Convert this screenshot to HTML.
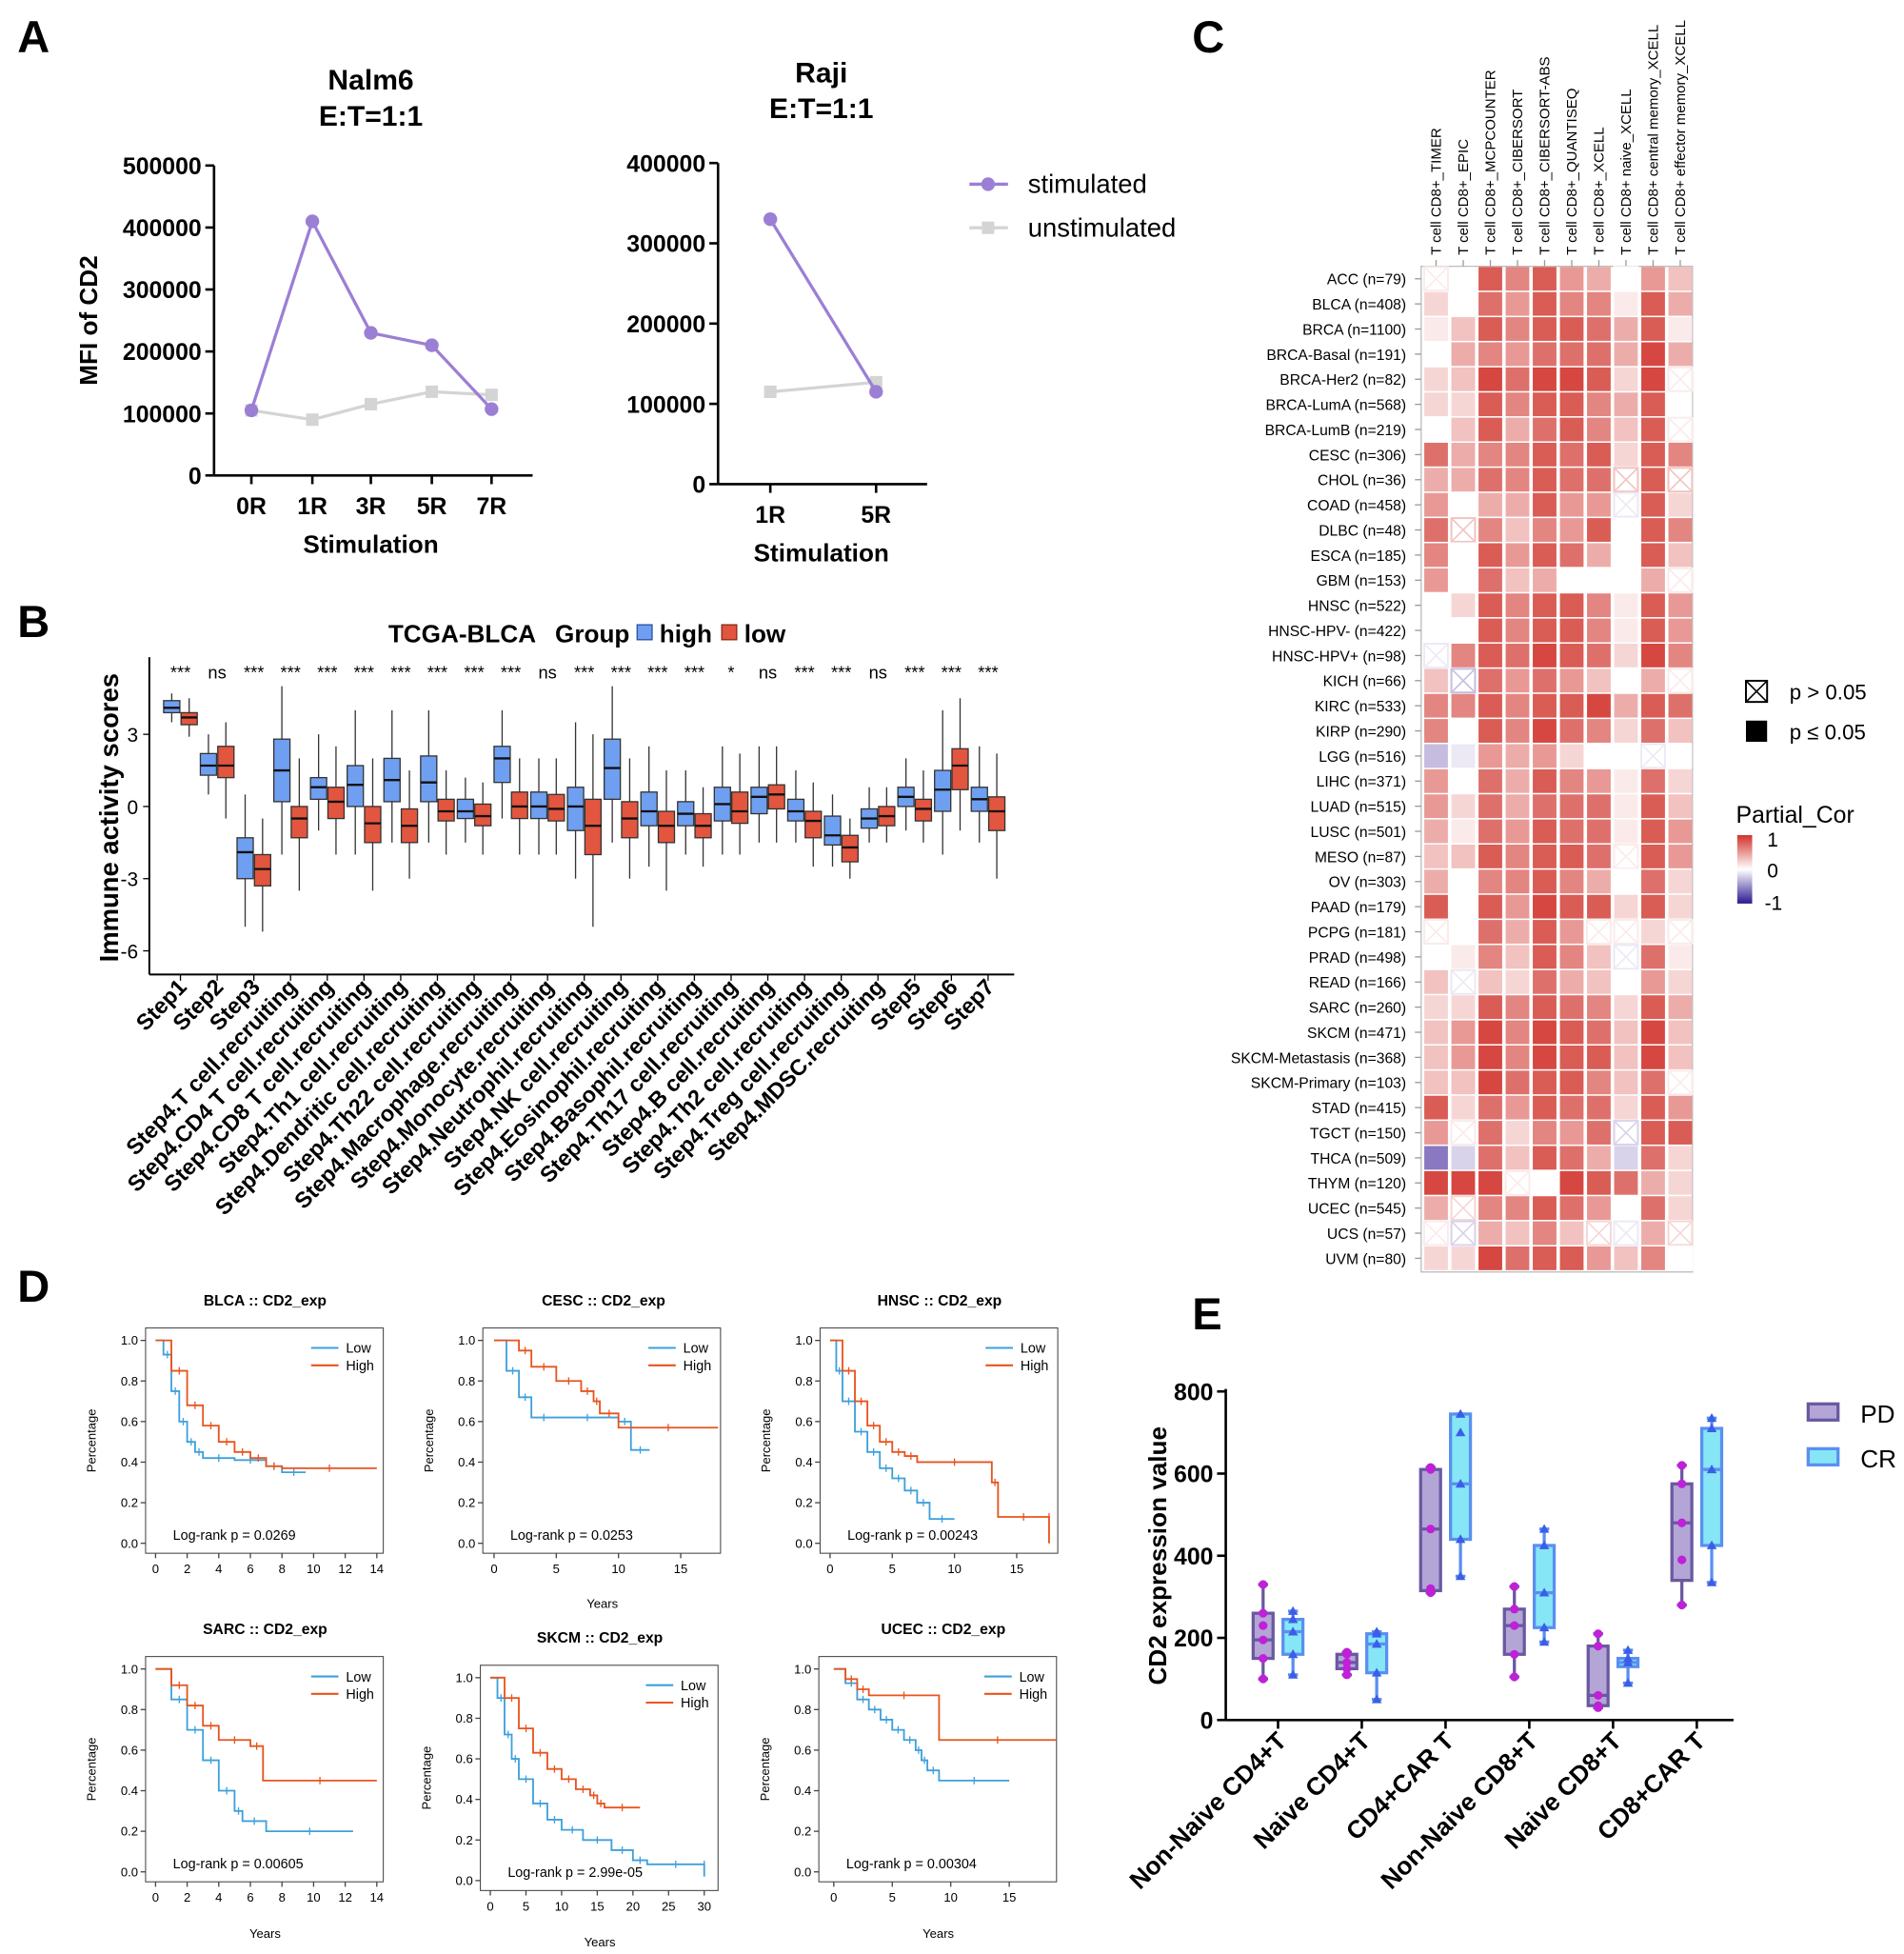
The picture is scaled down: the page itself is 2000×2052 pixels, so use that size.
<!DOCTYPE html>
<html><head><meta charset="utf-8">
<style>
html,body{margin:0;padding:0;background:#fff;}
svg{display:block;font-family:"Liberation Sans",Arial,sans-serif;}
</style></head>
<body>
<svg id="fig" xmlns="http://www.w3.org/2000/svg" width="2000" height="2052" viewBox="0 0 1530 1570" preserveAspectRatio="none"></svg>
<script>
// ---------- DATA ----------
const nalmCats = ["0R","1R","3R","5R","7R"];
const nalmStim = [105000,410000,230000,210000,107000];
const nalmUnstim = [105000,90000,115000,135000,130000];
const nalmTicks = [0,100000,200000,300000,400000,500000];
const rajiCats = ["1R","5R"];
const rajiStim = [330000,115000];
const rajiUnstim = [115000,127000];
const rajiTicks = [0,100000,200000,300000,400000];

const bCats = ["Step1","Step2","Step3","Step4.T cell.recruiting","Step4.CD4 T cell.recruiting","Step4.CD8 T cell.recruiting","Step4.Th1 cell.recruiting","Step4.Dendritic cell.recruiting","Step4.Th22 cell.recruiting","Step4.Macrophage.recruiting","Step4.Monocyte.recruiting","Step4.Neutrophil.recruiting","Step4.NK cell.recruiting","Step4.Eosinophil.recruiting","Step4.Basophil.recruiting","Step4.Th17 cell.recruiting","Step4.B cell.recruiting","Step4.Th2 cell.recruiting","Step4.Treg cell.recruiting","Step4.MDSC.recruiting","Step5","Step6","Step7"];
const bSig = ["***","ns","***","***","***","***","***","***","***","***","ns","***","***","***","***","*","ns","***","***","ns","***","***","***"];
// [whiskerLo, q1, median, q3, whiskerHi]
const bHigh = [[3.5,3.9,4.1,4.4,4.7],[0.5,1.3,1.7,2.2,3.0],[-5,-3.0,-1.9,-1.3,0.5],[-2,0.2,1.5,2.8,5],[-1,0.3,0.8,1.2,3],[-2,0,0.9,1.7,4],[-1.5,0.2,1.1,2.0,4],[-1.5,0.2,1.0,2.1,4],[-1.5,-0.5,-0.2,0.3,1.2],[-0.5,1.0,2.0,2.5,4],[-2,-0.5,0,0.6,2],[-3,-1,0,0.8,3.5],[-1.5,0.3,1.6,2.8,5],[-2.5,-0.8,-0.2,0.6,2.5],[-2,-0.8,-0.3,0.2,1.5],[-2,-0.6,0.1,0.8,2.5],[-1.5,-0.3,0.4,0.8,2.5],[-1.5,-0.6,-0.2,0.3,1.5],[-2.5,-1.6,-1.2,-0.4,0.5],[-1.5,-0.9,-0.5,-0.1,0.8],[-1,0,0.4,0.8,2],[-2,-0.2,0.7,1.5,4],[-1.5,-0.2,0.3,0.8,2.5]];
const bLow = [[2.9,3.4,3.7,3.9,4.5],[-0.5,1.2,1.7,2.5,3.5],[-5.2,-3.3,-2.6,-2.0,-0.5],[-3.5,-1.3,-0.5,0.0,2],[-2,-0.5,0.2,0.8,2.5],[-3.5,-1.5,-0.7,0,2],[-3,-1.5,-0.8,-0.1,1.5],[-2,-0.6,-0.2,0.3,1.5],[-2,-0.8,-0.4,0.1,1],[-2,-0.5,0,0.6,2],[-2,-0.6,-0.1,0.5,2],[-5,-2,-0.8,0.3,3],[-3,-1.3,-0.5,0.2,2],[-3.5,-1.5,-0.8,-0.2,1.5],[-2.5,-1.3,-0.8,-0.3,0.8],[-2,-0.7,-0.2,0.6,2.2],[-1.5,-0.1,0.5,0.9,2.5],[-2.5,-1.3,-0.6,-0.2,1],[-3,-2.3,-1.7,-1.2,-0.5],[-1.5,-0.8,-0.4,0,0.8],[-1.5,-0.6,-0.1,0.3,1.5],[-1,0.7,1.7,2.4,4.5],[-3,-1.0,-0.2,0.4,2.2]];
const bTicks = [3,0,-3,-6];

const hmCols = ["T cell CD8+_TIMER","T cell CD8+_EPIC","T cell CD8+_MCPCOUNTER","T cell CD8+_CIBERSORT","T cell CD8+_CIBERSORT-ABS","T cell CD8+_QUANTISEQ","T cell CD8+_XCELL","T cell CD8+ naive_XCELL","T cell CD8+ central memory_XCELL","T cell CD8+ effector memory_XCELL"];
const hmRows = ["ACC (n=79)","BLCA (n=408)","BRCA (n=1100)","BRCA-Basal (n=191)","BRCA-Her2 (n=82)","BRCA-LumA (n=568)","BRCA-LumB (n=219)","CESC (n=306)","CHOL (n=36)","COAD (n=458)","DLBC (n=48)","ESCA (n=185)","GBM (n=153)","HNSC (n=522)","HNSC-HPV- (n=422)","HNSC-HPV+ (n=98)","KICH (n=66)","KIRC (n=533)","KIRP (n=290)","LGG (n=516)","LIHC (n=371)","LUAD (n=515)","LUSC (n=501)","MESO (n=87)","OV (n=303)","PAAD (n=179)","PCPG (n=181)","PRAD (n=498)","READ (n=166)","SARC (n=260)","SKCM (n=471)","SKCM-Metastasis (n=368)","SKCM-Primary (n=103)","STAD (n=415)","TGCT (n=150)","THCA (n=509)","THYM (n=120)","UCEC (n=545)","UCS (n=57)","UVM (n=80)"];
// value x10 ; suffix x = p > 0.05
const hmVals = [
"1x 0 8 6 8 5 4 0x 5 3","2 0x 7 5 8 6 6 1 8 4","1 3 8 6 8 8 7 4 8 1","0x 4 6 5 7 7 7 4 9 4","2 3 9 7 9 9 8 2 9 1x",
"2 2 8 6 8 8 6 4 8 0","0x 3 8 4 7 8 6 3 8 1x","7 4 6 6 8 7 8 2 8 6","4 4 7 6 8 7 7 3x 8 3x","5 0x 4 4 8 5 5 -1x 8 2",
"7 3x 6 3 6 5 8 0 8 6","6 0x 8 5 8 7 4 0x 8 3","5 0 7 3 4 0x 0x 0x 4 1x","0x 2 8 6 8 8 6 1 8 5","0 0x 8 6 8 8 6 1 8 5",
"-1x 6 8 7 9 8 7 2 9 6","3 -3x 7 5 7 5 3 0x 4 1x","6 6 8 6 8 8 9 4 8 7","6 0 8 6 9 7 6 2 7 3","-3 -1 5 4 5 2 0 0x -1x 0",
"5 0 7 4 8 6 5 1 7 2","5 2 7 4 7 7 7 1 8 3","4 1 7 5 8 7 7 1 8 5","3 3 8 6 8 8 7 1x 8 5","4 0x 6 6 8 6 4 0x 7 2",
"8 0x 8 5 9 8 8 2 8 2","1x 0x 7 4 8 5 1x 1x 2 1x","0 1 6 3 8 6 3 -1x 7 1","3 -1x 3 2 7 4 3 0 5 2","2 2 8 6 8 7 6 2 8 4",
"3 5 9 6 9 8 7 3 9 3","3 5 9 6 9 8 8 3 9 3","3 3 9 7 8 8 6 3 7 1x","8 2 7 5 8 7 7 2 8 5","5 1x 7 2 6 5 7 -2x 8 8",
"-6 -2 7 3 8 7 4 -2 7 2","9 9 9 1x 0 9 8 7 4 2","4 2x 6 6 8 7 5 0 7 2","1x -2x 4 3 6 3 2x -1x 4 2x","2 2 9 7 8 8 5 3 6 0x"];

const kmTitles = ["BLCA","CESC","HNSC","SARC","SKCM","UCEC"];
const kmP = ["0.0269","0.0253","0.00243","0.00605","2.99e-05","0.00304"];
const kmLowT = [[0,0.5,1,1.5,2,2.5,3,5,7,8,9.5],[0,1,2,3,5,10,11,12.5],[0,0.5,1,2,3,4,5,6,7,8,10],[0,1,2,3,4,5,5.5,7,12.5],[0,1,2,3,4,6,8,10,13,17,20,22,30,30],[0,1,2,3,4,5,6,7,7.5,8,9,15]];
const kmLowS = [[1,0.93,0.75,0.6,0.5,0.45,0.42,0.41,0.38,0.35,0.35],[1,0.85,0.72,0.62,0.62,0.6,0.46,0.46],[1,0.85,0.7,0.55,0.45,0.37,0.32,0.26,0.2,0.12,0.12],[1,0.85,0.7,0.55,0.4,0.3,0.25,0.2,0.2],[1,0.9,0.72,0.6,0.5,0.38,0.3,0.25,0.2,0.15,0.1,0.08,0.08,0.02],[1,0.93,0.85,0.8,0.75,0.7,0.65,0.6,0.55,0.5,0.45,0.45]];
const kmHighT = [[0,1,2,3,4,5,6,7,8,14],[0,2,3,5,7,8,8.5,10,18],[0,1,2,3,4,5,6,7,13,13.5,17.6,17.6],[0,1,2,3,4,6,6.8,14],[0,2,4,6,8,10,12,14,15,16,21],[0,1,2,3,9,19]];
const kmHighS = [[1,0.85,0.68,0.58,0.5,0.45,0.42,0.38,0.37,0.37],[1,0.95,0.87,0.8,0.75,0.7,0.64,0.57,0.57],[1,0.85,0.7,0.58,0.5,0.45,0.43,0.4,0.3,0.13,0.13,0],[1,0.92,0.82,0.72,0.65,0.62,0.45,0.45],[1,0.9,0.75,0.63,0.55,0.5,0.45,0.42,0.38,0.36,0.36],[1,0.95,0.9,0.87,0.65,0.65]];

const eCats = ["Non-Naive CD4+T","Naive CD4+T","CD4+CAR T","Non-Naive CD8+T","Naive CD8+T","CD8+CAR T"];
const ePD = [[100,150,195,260,330],[110,125,140,160,165],[310,315,465,610,615],[105,160,230,270,325],[30,35,60,180,210],[280,340,480,575,620]];
const eCR = [[110,160,215,245,265],[50,115,185,210,215],[350,440,575,745,745],[190,225,310,425,465],[90,130,140,150,170],[335,425,610,710,735]];
const ePDpts = [[100,150,195,230,330,260],[110,125,140,160,165],[310,320,465,610,615],[105,160,230,270,325],[30,35,60,180,210],[280,390,480,575,620]];
const eCRpts = [[110,160,215,245,265],[50,115,185,210,215],[350,440,575,700,745],[190,225,310,425,465],[90,140,150,170],[335,425,610,710,735]];
const eTicks = [0,200,400,600,800];

// ---------- HELPERS ----------
const NS="http://www.w3.org/2000/svg";
const svg=document.getElementById('fig');
function mk(tag,attrs,parent){const e=document.createElementNS(NS,tag);for(const k in attrs)e.setAttribute(k,attrs[k]);(parent||svg).appendChild(e);return e;}
function tx(x,y,s,attrs,parent){const e=mk('text',Object.assign({x:x,y:y},attrs),parent);e.textContent=s;return e;}
function grp(name){const g=mk('g',{});return g;}

// panel letters
const letters=[["A",14,42],["B",14,512],["C",958,42],["D",14,1046],["E",958,1068]];
letters.forEach(l=>{const t=tx(l[1],l[2],l[0],{'font-size':36,'font-weight':'bold'});

});

// ---------- PANEL A ----------
function lineChart(name,ax,ayTop,ayBot,axRight,xs,cats,ticks,stim,unstim,title1,title2,tcx,tYear,showY){
 const g=grp(name);
 const maxV=ticks[ticks.length-1];
 const y=v=>ayBot-(v/maxV)*(ayBot-ayTop);
 const t1=tx(tcx,tYear,title1,{'font-size':23,'font-weight':'bold','text-anchor':'middle'},g);
 
 
 tx(tcx,tYear+29,title2,{'font-size':23,'font-weight':'bold','text-anchor':'middle'},g);
 const ya=mk('line',{x1:ax,y1:ayTop,x2:ax,y2:ayBot,stroke:'#000','stroke-width':2},g);
 
 
 const xa=mk('line',{x1:ax,y1:ayBot,x2:axRight,y2:ayBot,stroke:'#000','stroke-width':2},g);
 
 
 ticks.forEach(v=>{mk('line',{x1:ax-7,y1:y(v),x2:ax,y2:y(v),stroke:'#000','stroke-width':2},g);
  const t=tx(ax-10,y(v)+7,String(v),{'font-size':19,'font-weight':'bold','text-anchor':'end'},g);
  
  });
 cats.forEach((c,i)=>{mk('line',{x1:xs[i],y1:ayBot,x2:xs[i],y2:ayBot+7,stroke:'#000','stroke-width':2},g);
  const t=tx(xs[i],ayBot+31,c,{'font-size':19,'font-weight':'bold','text-anchor':'middle'},g);
  
  });
 const xt=tx(tcx,ayBot+62,'Stimulation',{'font-size':20,'font-weight':'bold','text-anchor':'middle'},g);
 
 
 if(showY){const yt=tx(0,0,'MFI of CD2',{'font-size':20,'font-weight':'bold','text-anchor':'middle',transform:`translate(78,${(ayTop+ayBot)/2}) rotate(-90)`},g);
  
  }
 const pu=mk('polyline',{points:unstim.map((v,i)=>xs[i]+','+y(v)).join(' '),fill:'none',stroke:'#d4d4d4','stroke-width':2.5},g);
 
 
 unstim.forEach((v,i)=>{const r=mk('rect',{x:xs[i]-5,y:y(v)-5,width:10,height:10,fill:'#d4d4d4'},g);
  
  });
 const ps=mk('polyline',{points:stim.map((v,i)=>xs[i]+','+y(v)).join(' '),fill:'none',stroke:'#9b7fd4','stroke-width':2.5},g);
 
 
 stim.forEach((v,i)=>{const c=mk('circle',{cx:xs[i],cy:y(v),r:5.5,fill:'#9b7fd4'},g);
  
  });
}
lineChart('nalm6-chart',172,133,382,428,[202,251,298,347,395],nalmCats,nalmTicks,nalmStim,nalmUnstim,'Nalm6','E:T=1:1',298,72,true);
lineChart('raji-chart',577,131,389,745,[619,704],rajiCats,rajiTicks,rajiStim,rajiUnstim,'Raji','E:T=1:1',660,66,false);
(function(){const g=grp('panel-a-legend');
 mk('line',{x1:779,y1:148,x2:810,y2:148,stroke:'#9b7fd4','stroke-width':2.5},g);
 mk('circle',{cx:794,cy:148,r:5.5,fill:'#9b7fd4'},g);
 const a=tx(826,155,'stimulated',{'font-size':21},g);
 
 
 mk('line',{x1:779,y1:183,x2:810,y2:183,stroke:'#d4d4d4','stroke-width':2.5},g);
 mk('rect',{x:789,y:178,width:10,height:10,fill:'#d4d4d4'},g);
 const b=tx(826,190,'unstimulated',{'font-size':21},g);
 
 })();

// ---------- PANEL B ----------
(function(){
 const g=grp('panel-b-boxplot');
 const x0=145, step=29.5, yZ=648, k=19.33;
 const y=v=>yZ-v*k;
 const xa=mk('line',{x1:120,y1:783,x2:815,y2:783,stroke:'#000','stroke-width':1.5},g);
 
 
 const ya=mk('line',{x1:120,y1:528,x2:120,y2:783,stroke:'#000','stroke-width':1.5},g);
 
 
 bTicks.forEach(v=>{mk('line',{x1:115,y1:y(v),x2:120,y2:y(v),stroke:'#000'},g);
  const t=tx(111,y(v)+6,String(v),{'font-size':16,'text-anchor':'end'},g);
  
  });
 const yt=tx(0,0,'Immune activity scores',{'font-size':21,'font-weight':'bold','text-anchor':'middle',transform:'translate(95,657) rotate(-90)'},g);
 
 
 const tt=tx(312,516,'TCGA-BLCA',{'font-size':20,'font-weight':'bold'},g);
 
 
 tx(446,516,'Group',{'font-size':20,'font-weight':'bold'},g);
 mk('rect',{x:512,y:502,width:12,height:12,fill:'#6f9ff0',stroke:'#2a50a0'},g);
 const lh=tx(530,516,'high',{'font-size':20,'font-weight':'bold'},g);
 
 
 mk('rect',{x:580,y:502,width:12,height:12,fill:'#e2553e',stroke:'#8a2a1a'},g);
 const ll=tx(598,516,'low',{'font-size':20,'font-weight':'bold'},g);
 
 
 function box(cx,d,fill,name){
  const b=mk('g',{},g);
  
  
  mk('line',{x1:cx,y1:y(d[4]),x2:cx,y2:y(d[3]),stroke:'#333','stroke-width':1},b);
  mk('line',{x1:cx,y1:y(d[1]),x2:cx,y2:y(d[0]),stroke:'#333','stroke-width':1},b);
  mk('rect',{x:cx-6.5,y:y(d[3]),width:13,height:y(d[1])-y(d[3]),fill:fill,stroke:'#333','stroke-width':1},b);
  mk('line',{x1:cx-6.5,y1:y(d[2]),x2:cx+6.5,y2:y(d[2]),stroke:'#111','stroke-width':1.8},b);
 }
 bCats.forEach((c,i)=>{
  const cx=x0+i*step;
  box(cx-7,bHigh[i],'#6f9ff0','box-high-'+i);
  box(cx+7,bLow[i],'#e2553e','box-low-'+i);
  const s=tx(cx,545,bSig[i],{'font-size':14,'text-anchor':'middle'},g);
  
  
  mk('line',{x1:cx,y1:783,x2:cx,y2:788,stroke:'#000'},g);
  const t=tx(0,0,c,{'font-size':18,'font-weight':'bold','text-anchor':'end',transform:`translate(${cx+6},${794}) rotate(-46)`},g);
  
  
 });
})();

// ---------- PANEL C ----------
(function(){
 const g=grp('panel-c-heatmap');
 const cx0=1154, cstep=21.8, ry0=224, rstep=20.18, cs=19;
 function col(v){
  if(v>=0){const r=[208,51,43];const m=Math.min(1,v*1.0);
   return `rgb(${Math.round(255+(r[0]-255)*m)},${Math.round(255+(r[1]-255)*m)},${Math.round(255+(r[2]-255)*m)})`;}
  const b=[60,30,150];const m=Math.min(1,-v);
  return `rgb(${Math.round(255+(b[0]-255)*m)},${Math.round(255+(b[1]-255)*m)},${Math.round(255+(b[2]-255)*m)})`;
 }
 mk('rect',{x:1142,y:214,width:218,height:808,fill:'none',stroke:'#bbb','stroke-width':1},g);
 hmCols.forEach((c,j)=>{const x=cx0+j*cstep;
  mk('line',{x1:x,y1:209,x2:x,y2:214,stroke:'#999'},g);
  const t=tx(0,0,c,{'font-size':11.5,transform:`translate(${x+4},205) rotate(-90)`},g);
  
  });
 hmRows.forEach((r,i)=>{const y=ry0+i*rstep;
  mk('line',{x1:1137,y1:y,x2:1142,y2:y,stroke:'#999'},g);
  const t=tx(1130,y+4.5,r,{'font-size':12,'text-anchor':'end'},g);
  
  
  hmVals[i].split(' ').forEach((tok,j)=>{
   const ns=tok.endsWith('x');const v=parseFloat(tok)/10;const x=cx0+j*cstep;
   const c=col(v);
   const cell=mk('rect',{x:x-cs/2,y:y-cs/2,width:cs,height:cs,fill:ns?'#fff':c,stroke:ns?c:'none','stroke-width':ns?1.5:0},g);
   
   
   if(ns){mk('path',{d:`M${x-cs/2+1},${y-cs/2+1}L${x+cs/2-1},${y+cs/2-1}M${x+cs/2-1},${y-cs/2+1}L${x-cs/2+1},${y+cs/2-1}`,stroke:c,'stroke-width':1.2},g);}
  });
 });
 const lg=grp('heatmap-legend');
 mk('rect',{x:1403,y:547,width:17,height:17,fill:'#fff',stroke:'#000','stroke-width':1.5},lg);
 mk('path',{d:'M1403,547L1420,564M1420,547L1403,564',stroke:'#000','stroke-width':1.2},lg);
 const p1=tx(1438,562,'p > 0.05',{'font-size':17},lg);
 
 
 mk('rect',{x:1403,y:579,width:17,height:17,fill:'#000'},lg);
 const p2=tx(1438,594,'p ≤ 0.05',{'font-size':17},lg);
 
 
 const pc=tx(1395,661,'Partial_Cor',{'font-size':19},lg);
 
 
 const defs=mk('defs',{},lg);
 const lgr=mk('linearGradient',{id:'cb',x1:0,y1:0,x2:0,y2:1},defs);
 mk('stop',{offset:'0','stop-color':'#d0332b'},lgr);
 mk('stop',{offset:'0.5','stop-color':'#ffffff'},lgr);
 mk('stop',{offset:'1','stop-color':'#2a1a90'},lgr);
 const cb=mk('rect',{x:1396,y:671,width:12,height:55,fill:'url(#cb)'},lg);
 
 
 tx(1420,680,'1',{'font-size':16},lg);
 tx(1420,705,'0',{'font-size':16},lg);
 tx(1418,731,'-1',{'font-size':16},lg);
})();

// ---------- PANEL D ----------
const kmLayout=[
 {fx:117,fy:1067,fw:191,fh:181,t0:125,ppy:12.7,y1:1077,y0:1240,ticks:[0,2,4,6,8,10,12,14],tc:213,ty:1049,yr:0},
 {fx:388,fy:1067,fw:191,fh:181,t0:397,ppy:10,y1:1077,y0:1240,ticks:[0,5,10,15],tc:485,ty:1049,yr:1292},
 {fx:659,fy:1067,fw:191,fh:181,t0:667,ppy:10,y1:1077,y0:1240,ticks:[0,5,10,15],tc:755,ty:1049,yr:0},
 {fx:117,fy:1331,fw:191,fh:181,t0:125,ppy:12.7,y1:1341,y0:1504,ticks:[0,2,4,6,8,10,12,14],tc:213,ty:1313,yr:1557},
 {fx:386,fy:1338,fw:191,fh:181,t0:394,ppy:5.73,y1:1348,y0:1511,ticks:[0,5,10,15,20,25,30],tc:482,ty:1320,yr:1564},
 {fx:658,fy:1331,fw:191,fh:181,t0:670,ppy:9.4,y1:1341,y0:1504,ticks:[0,5,10,15],tc:758,ty:1313,yr:1557}];
kmLayout.forEach((L,i)=>{
 const g=grp('km-plot-'+kmTitles[i].toLowerCase());
 const X=t=>L.t0+t*L.ppy, Y=s=>L.y0-s*(L.y0-L.y1);
 const fr=mk('rect',{x:L.fx,y:L.fy,width:L.fw,height:L.fh,fill:'none',stroke:'#444','stroke-width':0.8},g);
 
 
 const t=tx(L.tc,L.ty,kmTitles[i]+'  ::  CD2_exp',{'font-size':12,'font-weight':'bold','text-anchor':'middle'},g);
 
 
 [0,0.2,0.4,0.6,0.8,1.0].forEach(s=>{mk('line',{x1:L.fx-4,y1:Y(s),x2:L.fx,y2:Y(s),stroke:'#444'},g);
  tx(L.fx-6,Y(s)+3.5,s.toFixed(1),{'font-size':10,'text-anchor':'end'},g);});
 L.ticks.forEach(v=>{mk('line',{x1:X(v),y1:L.fy+L.fh,x2:X(v),y2:L.fy+L.fh+4,stroke:'#444'},g);
  tx(X(v),L.fy+L.fh+16,String(v),{'font-size':10,'text-anchor':'middle'},g);});
 tx(0,0,'Percentage',{'font-size':10,'text-anchor':'middle',transform:`translate(${L.fx-40},${L.fy+L.fh/2}) rotate(-90)`},g);
 if(L.yr){tx(L.fx+96,L.yr,'Years',{'font-size':10,'text-anchor':'middle'},g);}
 function step(T,S,color,name){let d=`M${X(T[0])},${Y(S[0])}`;
  for(let k=1;k<T.length;k++){d+=`H${X(T[k])}V${Y(S[k])}`;}
  const p=mk('path',{d:d,fill:'none',stroke:color,'stroke-width':1.4},g);
  
  
  for(let k=1;k<T.length-1;k++){const xm=(X(T[k])+X(T[k+1]))/2;
   mk('line',{x1:xm,y1:Y(S[k])-3,x2:xm,y2:Y(S[k])+3,stroke:color,'stroke-width':1},g);}
 }
 step(kmLowT[i],kmLowS[i],'#3ea0dc','km-low-curve');
 step(kmHighT[i],kmHighS[i],'#e8541e','km-high-curve');
 const lx=L.fx+L.fw-58;
 mk('line',{x1:lx,y1:L.fy+16,x2:lx+22,y2:L.fy+16,stroke:'#3ea0dc','stroke-width':1.6},g);
 tx(lx+28,L.fy+20,'Low',{'font-size':11},g);
 mk('line',{x1:lx,y1:L.fy+30,x2:lx+22,y2:L.fy+30,stroke:'#e8541e','stroke-width':1.6},g);
 tx(lx+28,L.fy+34,'High',{'font-size':11},g);
 const pl=tx(L.fx+22,L.fy+L.fh-11,'Log-rank p = '+kmP[i],{'font-size':11},g);
 
 
});

// ---------- PANEL E ----------
(function(){
 const g=grp('panel-e-boxplot');
 const ax=985, yTop=1118, yBot=1382;
 const y=v=>yBot-v/800*(yBot-yTop);
 const ya=mk('line',{x1:ax,y1:yTop-2,x2:ax,y2:yBot,stroke:'#000','stroke-width':2},g);
 
 
 const xa=mk('line',{x1:ax,y1:yBot,x2:1393,y2:yBot,stroke:'#000','stroke-width':2},g);
 
 
 eTicks.forEach(v=>{mk('line',{x1:ax-7,y1:y(v),x2:ax,y2:y(v),stroke:'#000','stroke-width':2},g);
  const t=tx(ax-10,y(v)+7,String(v),{'font-size':19,'font-weight':'bold','text-anchor':'end'},g);
  
  });
 const yt=tx(0,0,'CD2 expression value',{'font-size':20,'font-weight':'bold','text-anchor':'middle',transform:'translate(937,1250) rotate(-90)'},g);
 
 
 function box(cx,d,fill,stroke,name){
  const b=mk('g',{},g);
  
  
  mk('line',{x1:cx,y1:y(d[4]),x2:cx,y2:y(d[0]),stroke:stroke,'stroke-width':2.5},b);
  mk('line',{x1:cx-4,y1:y(d[4]),x2:cx+4,y2:y(d[4]),stroke:stroke,'stroke-width':2.5},b);
  mk('line',{x1:cx-4,y1:y(d[0]),x2:cx+4,y2:y(d[0]),stroke:stroke,'stroke-width':2.5},b);
  mk('rect',{x:cx-8,y:y(d[3]),width:16,height:y(d[1])-y(d[3]),fill:fill,stroke:stroke,'stroke-width':2.5},b);
  mk('line',{x1:cx-8,y1:y(d[2]),x2:cx+8,y2:y(d[2]),stroke:stroke,'stroke-width':2.5},b);
 }
 eCats.forEach((c,i)=>{
  const gc=1027+i*67.3, xp=gc-12, xc=gc+12;
  box(xp,ePD[i],'#b3a6d6','#6a58a0','box-pd-'+i);
  box(xc,eCR[i],'#86e6f5','#5a8ff0','box-cr-'+i);
  ePDpts[i].forEach(v=>{const p=mk('circle',{cx:xp,cy:y(v),r:3.5,fill:'#c020d8'},g);
   
   });
  eCRpts[i].forEach(v=>{const yy=y(v);const p=mk('path',{d:`M${xc},${yy-4}L${xc+4},${yy+3}L${xc-4},${yy+3}Z`,fill:'#3a5ee8'},g);
   
   });
  mk('line',{x1:gc,y1:yBot,x2:gc,y2:yBot+7,stroke:'#000','stroke-width':2},g);
  const t=tx(0,0,c,{'font-size':20,'font-weight':'bold','text-anchor':'end',transform:`translate(${gc+8},${yBot+18}) rotate(-45)`},g);
  
  
 });
 const lg=grp('panel-e-legend');
 mk('rect',{x:1453,y:1128,width:24,height:13,fill:'#b3a6d6',stroke:'#6a58a0','stroke-width':2.5},lg);
 const a=tx(1495,1143,'PD',{'font-size':20},lg);
 
 
 mk('rect',{x:1453,y:1164,width:24,height:13,fill:'#86e6f5',stroke:'#5a8ff0','stroke-width':2.5},lg);
 const b=tx(1495,1179,'CR',{'font-size':20},lg);
 
 
})();
</script>
</body></html>
